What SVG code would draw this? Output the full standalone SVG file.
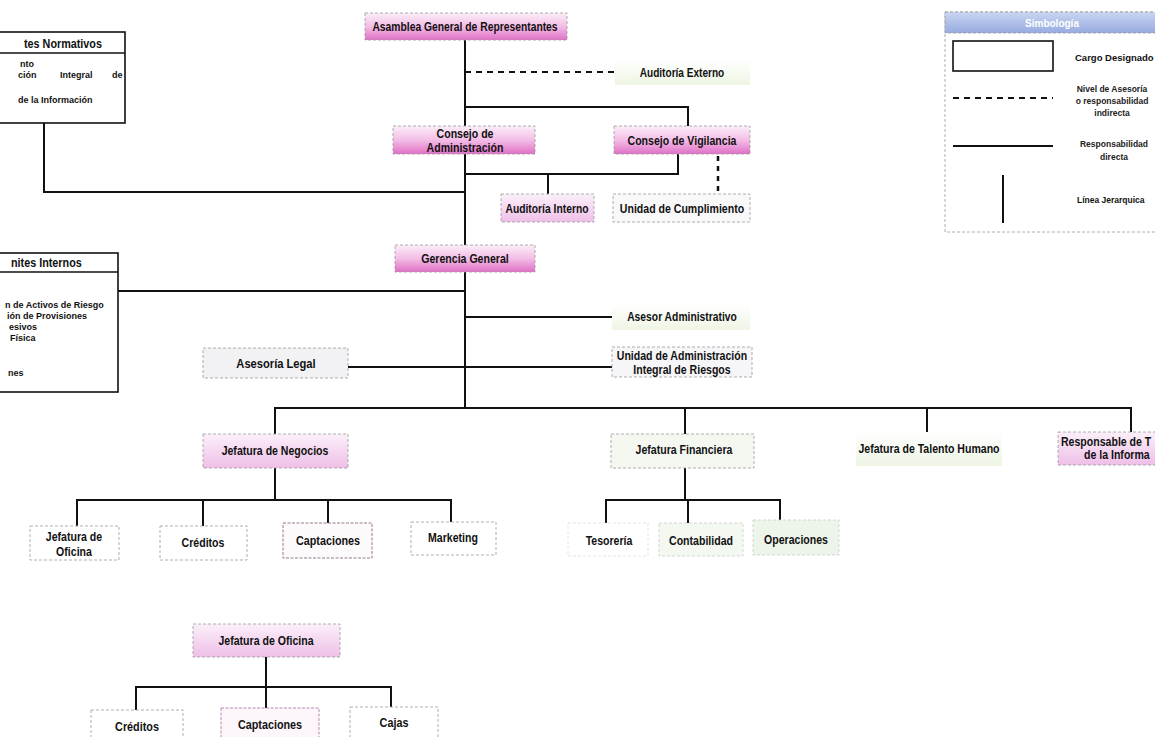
<svg xmlns="http://www.w3.org/2000/svg" width="1155" height="737" viewBox="0 0 1155 737">
<defs>
<linearGradient id="pk" x1="0" y1="0" x2="0" y2="1"><stop offset="0" stop-color="#fbeef8"/><stop offset="0.5" stop-color="#f3bde6"/><stop offset="1" stop-color="#e070c6"/></linearGradient>
<linearGradient id="pkl" x1="0" y1="0" x2="0" y2="1"><stop offset="0" stop-color="#fbf0f9"/><stop offset="1" stop-color="#efbfe8"/></linearGradient>
<linearGradient id="gr" x1="0" y1="0" x2="0" y2="1"><stop offset="0" stop-color="#ffffff"/><stop offset="1" stop-color="#eef5e4"/></linearGradient>
<linearGradient id="bl" x1="0" y1="0" x2="0" y2="1"><stop offset="0" stop-color="#c9d5f1"/><stop offset="1" stop-color="#97abe0"/></linearGradient>
</defs>
<style>
.b{stroke:#9a9a9a;stroke-width:0.8;stroke-dasharray:3 2}
.nb{stroke:none}
.t{font-family:"Liberation Sans",Arial,sans-serif;font-weight:bold;font-size:12px;fill:#111;text-anchor:middle}
.s{font-family:"Liberation Sans",Arial,sans-serif;font-weight:bold;font-size:9px;fill:#111}
.lg{font-family:"Liberation Sans",Arial,sans-serif;font-weight:bold;font-size:9px;fill:#222;text-anchor:middle}
.c{fill:none;stroke:#111;stroke-width:2}
.d{fill:none;stroke:#111;stroke-width:2;stroke-dasharray:6 5}
.frame{fill:#fff;stroke:#111;stroke-width:1.6}
</style>
<rect width="1155" height="737" fill="#fff"/>

<g id="connectors">
<path class="c" d="M465 39V408"/>
<path class="d" d="M465 72H615"/>
<path class="c" d="M465 107H688V126"/>
<path class="c" d="M678 154V174H465"/>
<path class="c" d="M548 174V194"/>
<path class="d" d="M718 156V194" style="stroke-width:2.5;stroke-dasharray:5 5"/>
<path class="c" d="M44 123V192H465"/>
<path class="c" d="M118 291H465"/>
<path class="c" d="M465 317H612"/>
<path class="c" d="M348 367H612"/>
<path class="c" d="M275 434V408H1131V432"/>
<path class="c" d="M685 408V434"/>
<path class="c" d="M927 408V432"/>
<path class="c" d="M275 468V500"/>
<path class="c" d="M77 526V500H451V522"/>
<path class="c" d="M203 500V526"/>
<path class="c" d="M328 500V523"/>
<path class="c" d="M685 468V500"/>
<path class="c" d="M606 523V500H780V520"/>
<path class="c" d="M688 500V523"/>
<path class="c" d="M266 657V687"/>
<path class="c" d="M136 710V687H391V707"/>
<path class="c" d="M266 687V708"/>
</g>

<g id="comites-normativos">
<rect class="frame" x="-10" y="32" width="135" height="91"/>
<line x1="-10" y1="53" x2="125" y2="53" stroke="#111" stroke-width="1.6"/>
<text class="t" style="text-anchor:start" transform="translate(24 48) scale(.9 1)">tes Normativos</text>
<text class="s" x="20" y="67">nto</text>
<text class="s" x="18" y="78">ción</text>
<text class="s" x="60" y="78">Integral</text>
<text class="s" x="112" y="78">de</text>
<text class="s" x="18" y="103">de la Información</text>
</g>

<g id="comites-internos">
<rect class="frame" x="-10" y="253" width="128" height="139"/>
<line x1="-10" y1="272" x2="118" y2="272" stroke="#111" stroke-width="1.6"/>
<text class="t" style="text-anchor:start" transform="translate(11 267) scale(.9 1)">nites Internos</text>
<text class="s" x="5" y="308">n de Activos de Riesgo</text>
<text class="s" x="7" y="319">ión de Provisiones</text>
<text class="s" x="9" y="330">esivos</text>
<text class="s" x="10" y="341">Física</text>
<text class="s" x="8" y="376">nes</text>
</g>

<g id="simbologia">
<rect x="945" y="12" width="215" height="220" fill="#fff" class="b"/>
<rect x="945" y="12" width="215" height="21" fill="url(#bl)" class="b"/>
<text class="lg" x="1052" y="27" style="fill:#fff;font-size:10px">Simbología</text>
<rect x="953" y="41" width="100" height="30" fill="#fff" stroke="#111" stroke-width="1.6"/>
<text class="s" x="1075" y="61" style="font-size:9.5px">Cargo Designado</text>
<line x1="953" y1="98" x2="1053" y2="98" stroke="#111" stroke-width="2" stroke-dasharray="6 5"/>
<text class="lg" x="1112" y="92" style="font-size:8.5px">Nivel de Asesoría</text>
<text class="lg" x="1112" y="104" style="font-size:8.5px">o responsabilidad</text>
<text class="lg" x="1112" y="116" style="font-size:8.5px">indirecta</text>
<line x1="953" y1="146" x2="1053" y2="146" stroke="#111" stroke-width="2"/>
<text class="lg" x="1114" y="147" style="font-size:8.5px">Responsabilidad</text>
<text class="lg" x="1114" y="160" style="font-size:8.5px">directa</text>
<line x1="1003" y1="175" x2="1003" y2="223" stroke="#111" stroke-width="2"/>
<text class="s" x="1077" y="203" style="font-size:8.5px">Línea Jerarquica</text>
</g>

<g id="asamblea">
<rect x="365" y="13" width="202" height="27" fill="url(#pk)" class="b"/>
<text class="t" transform="translate(465 31) scale(.86 1)">Asamblea General de Representantes</text>
</g>
<g id="auditoria-externo">
<rect x="615" y="60" width="135" height="25" fill="url(#gr)" class="nb"/>
<text class="t" transform="translate(682 77) scale(.84 1)">Auditoría Externo</text>
</g>
<g id="consejo-administracion">
<rect x="393" y="126" width="142" height="28" fill="url(#pk)" class="b"/>
<text class="t" transform="translate(465 138) scale(.88 1)">Consejo de</text>
<text class="t" transform="translate(465 152) scale(.88 1)">Administración</text>
</g>
<g id="consejo-vigilancia">
<rect x="614" y="126" width="136" height="28" fill="url(#pk)" class="b"/>
<text class="t" transform="translate(682 145) scale(.88 1)">Consejo de Vigilancia</text>
</g>
<g id="auditoria-interno">
<rect x="501" y="194" width="93" height="28" fill="url(#pkl)" class="b"/>
<text class="t" transform="translate(547 213) scale(.86 1)">Auditoría Interno</text>
</g>
<g id="unidad-cumplimiento">
<rect x="613" y="194" width="137" height="28" fill="#f8f8f9" class="b"/>
<text class="t" transform="translate(682 213) scale(.88 1)">Unidad de Cumplimiento</text>
</g>
<g id="gerencia-general">
<rect x="395" y="245" width="140" height="27" fill="url(#pk)" class="b"/>
<text class="t" transform="translate(465 263) scale(.88 1)">Gerencia General</text>
</g>
<g id="asesor-administrativo">
<rect x="612" y="305" width="138" height="25" fill="url(#gr)" class="nb"/>
<text class="t" transform="translate(682 321) scale(.86 1)">Asesor Administrativo</text>
</g>
<g id="asesoria-legal">
<rect x="203" y="348" width="145" height="30" fill="#f2f2f5" class="b"/>
<text class="t" transform="translate(276 368) scale(.93 1)">Asesoría Legal</text>
</g>
<g id="uair">
<rect x="612" y="347" width="140" height="30" fill="#f6f6f8" class="b"/>
<text class="t" transform="translate(682 360) scale(.88 1)">Unidad de Administración</text>
<text class="t" transform="translate(682 374) scale(.88 1)">Integral de Riesgos</text>
</g>
<g id="jefatura-negocios">
<rect x="203" y="434" width="145" height="34" fill="url(#pkl)" class="b"/>
<text class="t" transform="translate(275 455) scale(.88 1)">Jefatura de Negocios</text>
</g>
<g id="jefatura-financiera">
<rect x="611" y="434" width="143" height="34" fill="#f4f8f1" class="b"/>
<text class="t" transform="translate(684 454) scale(.88 1)">Jefatura Financiera</text>
</g>
<g id="jefatura-talento">
<rect x="856" y="432" width="146" height="34" fill="url(#gr)" class="nb"/>
<text class="t" transform="translate(929 453) scale(.88 1)">Jefatura de Talento Humano</text>
</g>
<g id="responsable-ti">
<rect x="1058" y="432" width="110" height="33" fill="url(#pkl)" class="b"/>
<text class="t" style="text-anchor:start" transform="translate(1061 446) scale(.88 1)">Responsable de T</text>
<text class="t" style="text-anchor:start" transform="translate(1084 459) scale(.88 1)">de la Informa</text>
</g>
<g id="jefatura-oficina-1">
<rect x="30" y="526" width="89" height="34" fill="#fff" class="b"/>
<text class="t" transform="translate(74 541) scale(.88 1)">Jefatura de</text>
<text class="t" transform="translate(74 556) scale(.88 1)">Oficina</text>
</g>
<g id="creditos-1">
<rect x="160" y="526" width="87" height="34" fill="#fff" class="b"/>
<text class="t" transform="translate(203 547) scale(.88 1)">Créditos</text>
</g>
<g id="captaciones-1">
<rect x="283" y="523" width="89" height="35" fill="#fdfafc" stroke="#8a6a86" stroke-width="0.9" stroke-dasharray="3 1.5"/>
<text class="t" transform="translate(328 545) scale(.9 1)">Captaciones</text>
</g>
<g id="marketing">
<rect x="411" y="522" width="85" height="33" fill="#fff" class="b"/>
<text class="t" transform="translate(453 542) scale(.88 1)">Marketing</text>
</g>
<g id="tesoreria">
<rect x="568" y="523" width="80" height="33" fill="#fff" class="b" style="stroke:#ddd"/>
<text class="t" transform="translate(609 545) scale(.88 1)">Tesorería</text>
</g>
<g id="contabilidad">
<rect x="659" y="523" width="84" height="33" fill="#f3f8f1" class="b" style="stroke:#ccc"/>
<text class="t" transform="translate(701 545) scale(.88 1)">Contabilidad</text>
</g>
<g id="operaciones">
<rect x="753" y="520" width="86" height="35" fill="#edf5ea" class="b" style="stroke:#ccc"/>
<text class="t" transform="translate(796 544) scale(.88 1)">Operaciones</text>
</g>
<g id="jefatura-oficina-2">
<rect x="193" y="624" width="147" height="33" fill="url(#pkl)" class="b"/>
<text class="t" transform="translate(266 645) scale(.88 1)">Jefatura de Oficina</text>
</g>
<g id="creditos-2">
<rect x="91" y="710" width="92" height="32" fill="#fff" class="b"/>
<text class="t" transform="translate(137 731) scale(.9 1)">Créditos</text>
</g>
<g id="captaciones-2">
<rect x="221" y="708" width="98" height="34" fill="#fdf6fb" stroke="#b07aa8" stroke-width="0.9" stroke-dasharray="3 1.5"/>
<text class="t" transform="translate(270 729) scale(.9 1)">Captaciones</text>
</g>
<g id="cajas">
<rect x="350" y="707" width="88" height="35" fill="#fff" class="b"/>
<text class="t" transform="translate(394 727) scale(.9 1)">Cajas</text>
</g>
</svg>
